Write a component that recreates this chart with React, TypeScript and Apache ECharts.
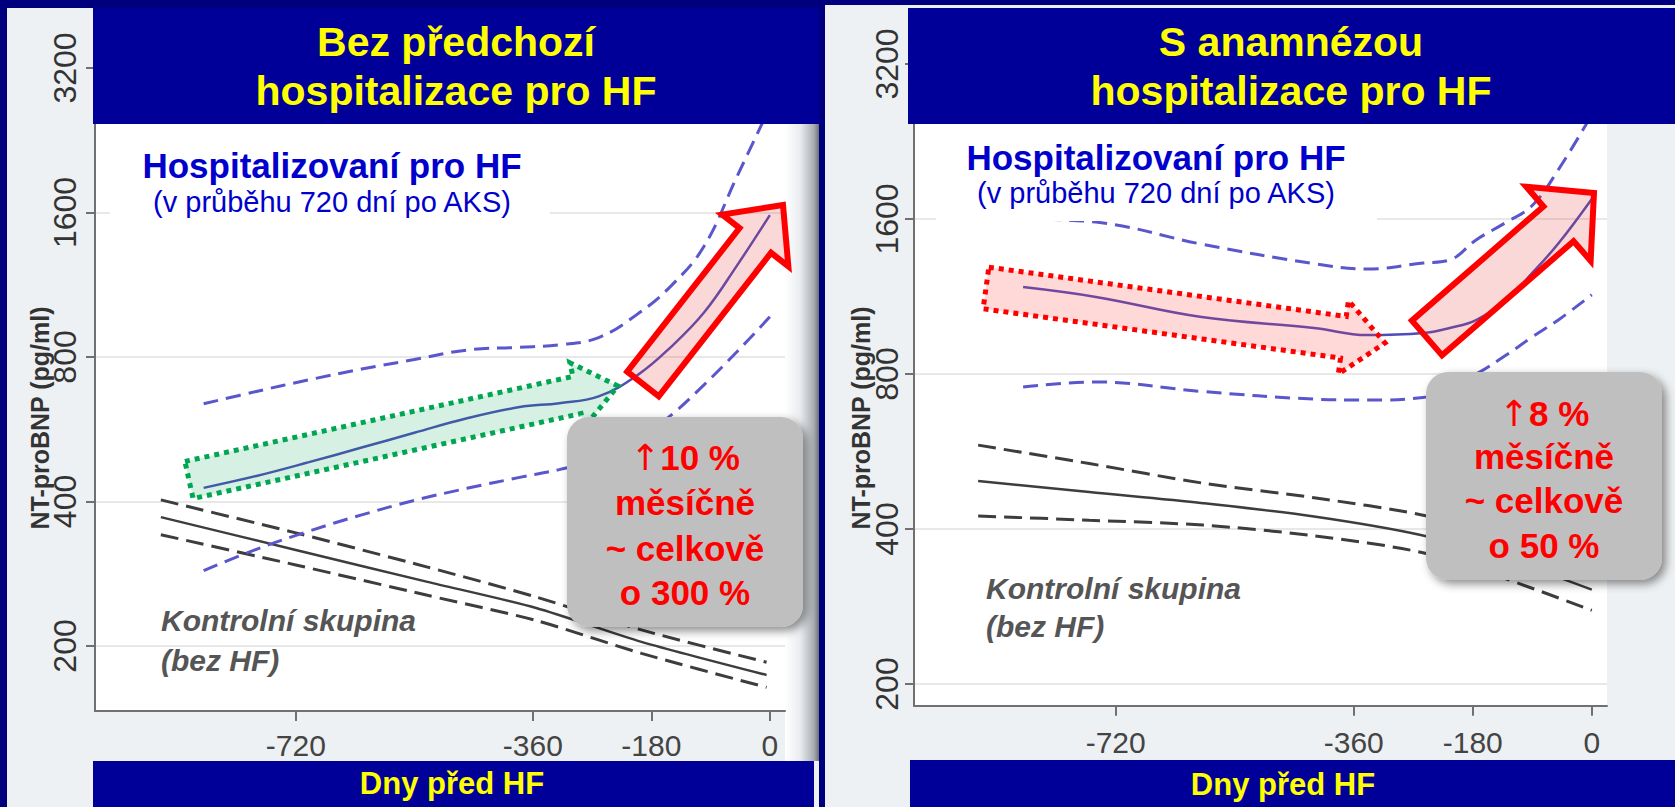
import React, { useEffect, useRef } from 'react';
import * as echarts from 'echarts';

// ---------- data (NT-proBNP, pg/ml, vs days before HF) ----------
const yTickValues = [200, 400, 800, 1600, 3200];
const xTickValues = [-720, -360, -180, 0];

// Left panel: without previous HF hospitalisation
const leftHfDays = [-860, -780, -700, -620, -540, -460, -380, -320, -260, -200, -150, -100, -50, 0];
const leftHfMid = [427, 452, 483, 518, 556, 596, 629, 641, 662, 735, 840, 990, 1240, 1580];
const leftHfUpper = [639, 678, 717, 755, 790, 827, 838, 848, 878, 985, 1125, 1360, 1900, 2650];
const leftHfLower = [287, 318, 347, 375, 402, 426, 449, 466, 490, 540, 605, 700, 820, 970];

const leftCtrlDays = [-925, -720, -520, -355, -195, -5];
const leftCtrlUpper = [403, 344, 292, 253, 216, 185];
const leftCtrlMid = [371, 317, 272, 240, 204, 174];
const leftCtrlLower = [341, 295, 255, 226, 193, 164];

// Right panel: with history of HF hospitalisation
const rightHfDays = [-860, -750, -590, -420, -340, -255, -215, -175, -130, -90, -50, 0];
const rightHfMid = [1180, 1129, 1032, 983, 952, 961, 983, 1018, 1114, 1257, 1437, 1750];
const rightHfUpper = [1600, 1578, 1430, 1310, 1279, 1314, 1332, 1457, 1575, 1700, 2000, 2550];
const rightHfLower = [755, 772, 740, 715, 712, 720, 760, 800, 870, 944, 1020, 1140];

const rightCtrlDays = [-928, -760, -588, -420, -257, -130, 0];
const rightCtrlUpper = [582, 536, 491, 460, 426, 385, 335];
const rightCtrlMid = [496, 472, 449, 423, 389, 350, 305];
const rightCtrlLower = [424, 416, 407, 388, 360, 320, 278];

// ---------- helpers ----------
const FONT = '"Liberation Sans", Arial, Helvetica, sans-serif';
const toUnit = (v: number) => Math.log2(v / 100);
const toData = (days: number[], vals: number[]) => days.map((d, i) => [d, toUnit(vals[i])]);
const yTickUnits = yTickValues.map(toUnit);

const HF_COLOR = '#5a56cc';
const HF_MID_COLOR = '#4d4cb8';
const CTRL_COLOR = '#3d3d3d';

function arrowPoints(tx: number, ty: number, px: number, py: number, bw: number, hw: number, hl: number) {
  const len = Math.hypot(px - tx, py - ty);
  const dx = (px - tx) / len;
  const dy = (py - ty) / len;
  const nx = -dy;
  const ny = dx;
  const bx = px - hl * dx;
  const by = py - hl * dy;
  return [
    [tx - bw * nx, ty - bw * ny],
    [bx - bw * nx, by - bw * ny],
    [bx - hw * nx, by - hw * ny],
    [px, py],
    [bx + hw * nx, by + hw * ny],
    [bx + bw * nx, by + bw * ny],
    [tx + bw * nx, ty + bw * ny],
  ];
}

function text(x: number, y: number, t: string, font: string, fill: string, align = 'center', z = 20, rotation = 0, rich?: any) {
  return {
    type: 'text',
    x,
    y,
    rotation,
    z,
    style: {
      text: t,
      font,
      fill,
      align,
      verticalAlign: 'middle',
      textAlign: align,
      textVerticalAlign: 'middle',
      ...(rich ? { rich } : {}),
    },
  };
}

function rect(x: number, y: number, w: number, h: number, style: any, z: number, r = 0) {
  return { type: 'rect', z, shape: { x, y, width: w, height: h, r }, style };
}

function xAxis(gridIndex: number, margin: number) {
  return {
    type: 'value',
    gridIndex,
    min: -1025,
    max: 23,
    axisLine: { show: true, onZero: false, lineStyle: { color: '#707070', width: 2 } },
    axisTick: { show: true, length: 10, customValues: xTickValues, lineStyle: { color: '#707070', width: 2 } },
    axisLabel: {
      customValues: xTickValues,
      margin,
      color: '#444',
      fontSize: 30,
      fontFamily: FONT,
      formatter: (v: number) => String(v),
    },
    splitLine: { show: false },
  };
}

function yAxis(gridIndex: number, min: number, margin: number) {
  return {
    type: 'value',
    gridIndex,
    min,
    max: 5.3,
    axisLine: { show: true, onZero: false, lineStyle: { color: '#707070', width: 2 } },
    axisTick: { show: true, length: 9, customValues: yTickUnits, lineStyle: { color: '#707070', width: 2 } },
    axisLabel: {
      customValues: yTickUnits,
      rotate: 90,
      margin,
      color: '#333',
      fontSize: 32,
      fontFamily: FONT,
      formatter: (v: number) => String(Math.round(100 * Math.pow(2, v))),
    },
    splitLine: { show: true, lineStyle: { color: '#e8e8e8', width: 2 } },
  };
}

function line(idx: number, days: number[], vals: number[], color: string, dashed: boolean, width: number, dash: number[], smooth: number) {
  return {
    type: 'line',
    xAxisIndex: idx,
    yAxisIndex: idx,
    data: toData(days, vals),
    smooth,
    showSymbol: false,
    symbol: 'none',
    silent: true,
    z: 3,
    lineStyle: { color, width, type: dashed ? dash : 'solid', cap: 'butt' },
  };
}

function buildOption() {
  const yellowTitle = `bold 41px ${FONT}`;
  const redFont = `bold 35px ${FONT}`;
  const arrowRich = { up: { font: `36px "DejaVu Sans", ${FONT}`, fill: '#ff0000' } };
  const graphic: any[] = [
    // panels
    rect(7, 8, 812, 799, { fill: '#eef1f3' }, -20),
    rect(825, 5, 850, 802, { fill: '#eef1f3' }, -20),
    rect(95, 124, 690, 587, { fill: '#ffffff' }, -15),
    rect(914, 124, 693, 582, { fill: '#ffffff' }, -15),
    rect(785, 124, 34, 637, {
      fill: new echarts.graphic.LinearGradient(0, 0, 1, 0, [
        { offset: 0, color: '#ffffff' },
        { offset: 0.45, color: '#e9ecef' },
        { offset: 0.85, color: '#a9adb2' },
        { offset: 1, color: '#6e7276' },
      ]),
    }, -15),
    // white boxes behind subtitles
    rect(110, 124, 440, 101, { fill: '#ffffff' }, 10),
    rect(936, 124, 441, 97, { fill: '#ffffff' }, 10),
    // title boxes
    rect(93, 8, 726, 116, { fill: '#000099' }, 15),
    rect(908, 8, 767, 116, { fill: '#000099' }, 15),
    rect(93, 761, 721, 46, { fill: '#000099' }, 15),
    rect(910, 760, 765, 47, { fill: '#000099' }, 15),
    text(456, 42, 'Bez předchozí', yellowTitle, '#ffff00'),
    text(456, 91, 'hospitalizace pro HF', yellowTitle, '#ffff00'),
    text(1291, 42, 'S anamnézou', yellowTitle, '#ffff00'),
    text(1291, 91, 'hospitalizace pro HF', yellowTitle, '#ffff00'),
    text(452, 783, 'Dny před HF', `bold 31px ${FONT}`, '#ffff00'),
    text(1283, 784, 'Dny před HF', `bold 31px ${FONT}`, '#ffff00'),
    // subtitles
    text(332, 165, 'Hospitalizovaní pro HF', `bold 35px ${FONT}`, '#0000cc'),
    text(332, 202, '(v průběhu 720 dní po AKS)', `29px ${FONT}`, '#0000cc'),
    text(1156, 157, 'Hospitalizovaní pro HF', `bold 35px ${FONT}`, '#0000cc'),
    text(1156, 193, '(v průběhu 720 dní po AKS)', `29px ${FONT}`, '#0000cc'),
    // axis titles
    text(40, 418, 'NT-proBNP (pg/ml)', `bold 25px ${FONT}`, '#333333', 'center', 5, Math.PI / 2),
    text(861, 418, 'NT-proBNP (pg/ml)', `bold 25px ${FONT}`, '#333333', 'center', 5, Math.PI / 2),
    // control labels
    text(161, 620, 'Kontrolní skupina', `italic bold 30px ${FONT}`, '#555555', 'left'),
    text(161, 660, '(bez HF)', `italic bold 30px ${FONT}`, '#555555', 'left'),
    text(986, 588, 'Kontrolní skupina', `italic bold 30px ${FONT}`, '#555555', 'left'),
    text(986, 626, '(bez HF)', `italic bold 30px ${FONT}`, '#555555', 'left'),
    // arrows
    {
      type: 'polygon', z: 11,
      shape: { points: arrowPoints(189, 480, 618, 386, 19, 33, 42) },
      style: { fill: 'rgba(0,170,80,0.16)', stroke: '#00a651', lineWidth: 5, lineDash: [5, 5], lineJoin: 'miter' },
    },
    {
      type: 'polygon', z: 11,
      shape: { points: arrowPoints(643, 384, 783, 205, 20, 42, 45) },
      style: { fill: 'rgba(235,60,60,0.2)', stroke: '#ff0000', lineWidth: 6, lineJoin: 'miter' },
    },
    {
      type: 'polygon', z: 11,
      shape: { points: arrowPoints(986, 288, 1385, 343, 21, 37, 42) },
      style: { fill: 'rgba(255,60,60,0.2)', stroke: '#ff0000', lineWidth: 5, lineDash: [5, 5], lineJoin: 'miter' },
    },
    {
      type: 'polygon', z: 11,
      shape: { points: arrowPoints(1427, 338, 1594, 193, 23, 49, 47) },
      style: { fill: 'rgba(235,60,60,0.2)', stroke: '#ff0000', lineWidth: 6, lineJoin: 'miter' },
    },
    // grey boxes
    rect(567, 417, 236, 210, {
      fill: '#bfbfbf', shadowBlur: 10, shadowColor: 'rgba(0,0,0,0.45)', shadowOffsetX: 4, shadowOffsetY: 4,
    }, 12, 22),
    rect(1426, 372, 236, 208, {
      fill: '#bfbfbf', shadowBlur: 10, shadowColor: 'rgba(0,0,0,0.45)', shadowOffsetX: 4, shadowOffsetY: 4,
    }, 12, 22),
    text(685, 457, '{up|↑}10 %', redFont, '#ff0000', 'center', 13, 0, arrowRich),
    text(685, 502, 'měsíčně', redFont, '#ff0000', 'center', 13),
    text(685, 548, '~ celkově', redFont, '#ff0000', 'center', 13),
    text(685, 592, 'o 300 %', redFont, '#ff0000', 'center', 13),
    text(1544, 413, '{up|↑}8 %', redFont, '#ff0000', 'center', 13, 0, arrowRich),
    text(1544, 456, 'měsíčně', redFont, '#ff0000', 'center', 13),
    text(1544, 500, '~ celkově', redFont, '#ff0000', 'center', 13),
    text(1544, 545, 'o 50 %', redFont, '#ff0000', 'center', 13),
  ];

  const hfDash = [15, 8];
  const ctrlDash = [18, 8];

  return {
    animation: false,
    backgroundColor: '#00007e',
    textStyle: { fontFamily: FONT },
    grid: [
      { left: 95, top: 24.6, width: 690, height: 686.4, containLabel: false },
      { left: 914, top: 17.5, width: 693, height: 688.2, containLabel: false },
    ],
    xAxis: [xAxis(0, 19), xAxis(1, 22)],
    yAxis: [yAxis(0, 0.55, 14), yAxis(1, 0.86, 11)],
    series: [
      line(0, leftCtrlDays, leftCtrlUpper, CTRL_COLOR, true, 3, ctrlDash, 0.25),
      line(0, leftCtrlDays, leftCtrlMid, CTRL_COLOR, false, 2.5, ctrlDash, 0.25),
      line(0, leftCtrlDays, leftCtrlLower, CTRL_COLOR, true, 3, ctrlDash, 0.25),
      line(0, leftHfDays, leftHfUpper, HF_COLOR, true, 3, hfDash, 0.4),
      line(0, leftHfDays, leftHfMid, HF_MID_COLOR, false, 2.5, hfDash, 0.4),
      line(0, leftHfDays, leftHfLower, HF_COLOR, true, 3, hfDash, 0.4),
      line(1, rightCtrlDays, rightCtrlUpper, CTRL_COLOR, true, 3, ctrlDash, 0.3),
      line(1, rightCtrlDays, rightCtrlMid, CTRL_COLOR, false, 2.5, ctrlDash, 0.3),
      line(1, rightCtrlDays, rightCtrlLower, CTRL_COLOR, true, 3, ctrlDash, 0.3),
      line(1, rightHfDays, rightHfUpper, HF_COLOR, true, 3, hfDash, 0.4),
      line(1, rightHfDays, rightHfMid, HF_MID_COLOR, false, 2.5, hfDash, 0.4),
      line(1, rightHfDays, rightHfLower, HF_COLOR, true, 3, hfDash, 0.4),
    ],
    graphic: { elements: graphic },
  };
}

export default function App() {
  const ref = useRef<HTMLDivElement>(null);
  useEffect(() => {
    if (!ref.current) return;
    const chart = echarts.init(ref.current, null, { renderer: 'svg' });
    chart.setOption(buildOption() as any);
    return () => chart.dispose();
  }, []);
  return (
    <div
      ref={ref}
      style={{ position: 'fixed', left: 0, top: 0, width: 1675, height: 807, overflow: 'hidden' }}
    />
  );
}
